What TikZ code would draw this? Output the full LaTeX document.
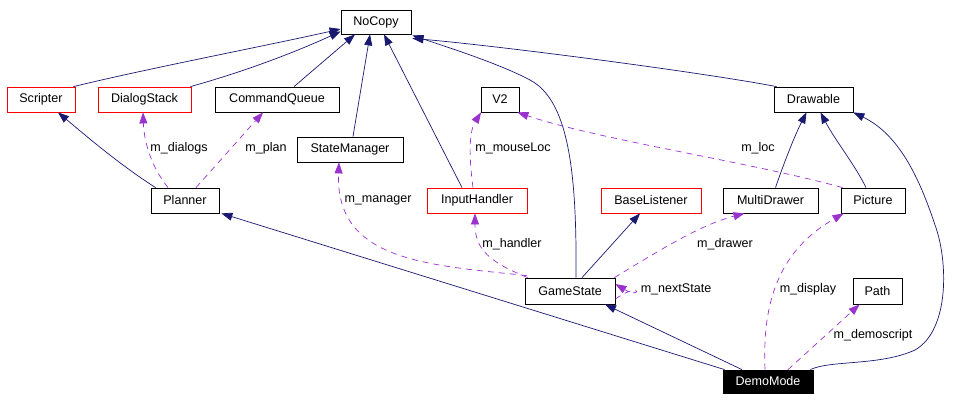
\documentclass[tikz,border=0pt]{standalone}
\usepackage{fontspec}
\setmainfont{Liberation Sans}
\usetikzlibrary{arrows.meta}
\definecolor{inhcol}{HTML}{191970}
\definecolor{usecol}{HTML}{9A32CD}
\definecolor{redbox}{HTML}{FF0000}
\begin{document}
\begin{tikzpicture}[x=1bp,y=-1bp,
  font=\fontsize{12.6}{14}\selectfont,
  cls/.style={draw=black, line width=0.8bp, minimum height=25bp, inner sep=0pt, fill=white},
  redcls/.style={cls, draw=redbox},
  tip/.style={-{Triangle[length=11bp,width=8bp]}},
  inh/.style={draw=inhcol, line width=0.7bp, tip, inhcol},
  use/.style={draw=usecol, line width=0.7bp, tip, usecol, dash pattern=on 6bp off 5bp},
  lab/.style={inner sep=0pt, text=black}]
\useasboundingbox (0,0) rectangle (972,402);

% classes
\node[cls, minimum width=70bp, minimum height=24bp] (nocopy) at (376,22) {NoCopy};
\node[redcls, minimum width=68bp] (scripter) at (41,99.5) {Scripter};
\node[redcls, minimum width=93bp] (dialog) at (144.5,99.5) {DialogStack};
\node[cls, minimum width=124bp] (cmdq) at (277,99.5) {CommandQueue};
\node[cls, minimum width=38bp] (v2) at (500,99.5) {V2};
\node[cls, minimum width=79bp] (drawable) at (813.5,99.5) {Drawable};
\node[cls, minimum width=106bp] (stateman) at (350,149.5) {StateManager};
\node[cls, minimum width=68bp] (planner) at (185,200.5) {Planner};
\node[redcls, minimum width=100bp] (input) at (477,200.5) {InputHandler};
\node[redcls, minimum width=100bp] (baselis) at (651,200.5) {BaseListener};
\node[cls, minimum width=95bp] (multi) at (770.5,200.5) {MultiDrawer};
\node[cls, minimum width=64bp] (picture) at (873,200.5) {Picture};
\node[cls, minimum width=90bp, minimum height=26bp] (gamestate) at (570,291) {GameState};
\node[cls, minimum width=49bp, minimum height=26bp] (path) at (877.5,291) {Path};
\node[cls, fill=black, text=white, minimum width=90bp, minimum height=23bp] (demo) at (768,381.5) {DemoMode};

% inheritance edges
\draw[inh] ([xshift=-2bp]scripter.north east) .. controls (150,68) and (270,45) .. ([yshift=-7bp]nocopy.west);
\draw[inh] ([xshift=-1bp]dialog.north east) .. controls (250,70) and (300,50) .. ([yshift=3bp]nocopy.south west);
\draw[inh] ([xshift=17bp]cmdq.north) -- ([xshift=-21bp]nocopy.south);
\draw[inh] ([xshift=3bp]stateman.north) -- ([xshift=-6bp]nocopy.south);
\draw[inh] ([xshift=-15bp]input.north) -- ([xshift=8bp]nocopy.south);
\draw[inh] ([xshift=6bp]gamestate.north) .. controls (577,170) and (568,100) .. (530,80) .. controls (500,64) and (450,48) .. ([xshift=1bp,yshift=-1bp]nocopy.south east);
\draw[inh] ([xshift=3bp]drawable.north west) .. controls (700,72) and (500,46) .. ([xshift=1bp,yshift=-4bp]nocopy.south east);
\draw[inh] ([xshift=5bp]planner.north west) .. controls (120,165) and (85,135) .. ([xshift=17bp]scripter.south);
\draw[inh] ([xshift=12bp]gamestate.north) -- ([xshift=-11bp]baselis.south);
\draw[inh] ([xshift=5bp]multi.north) .. controls (785,160) and (795,135) .. ([xshift=-7bp]drawable.south);
\draw[inh] ([xshift=-7bp]picture.north) .. controls (855,165) and (835,140) .. ([xshift=7bp]drawable.south);
\draw[inh] ([xshift=-3bp]demo.north east) .. controls (830,360) and (880,366) .. (915,350) .. controls (950,330) and (948,260) .. (935,225) .. controls (920,180) and (900,135) .. (drawable.south east);
\draw[inh] ([xshift=2bp]demo.north west) -- ([xshift=2bp]planner.south east);
\draw[inh] ([xshift=-26bp]demo.north) -- ([xshift=35bp]gamestate.south);

% usage edges
\draw[use] ([xshift=-17bp]planner.north) .. controls (150,165) and (144,140) .. ([xshift=-1.5bp]dialog.south);
\draw[use] ([xshift=11bp]planner.north) -- ([xshift=-14bp]cmdq.south);
\draw[use] ([xshift=2bp,yshift=2bp]gamestate.north west) .. controls (430,265) and (335,262) .. ([xshift=-11bp]stateman.south);
\draw[use] ([xshift=3bp]gamestate.north west) .. controls (490,262) and (475,250) .. ([xshift=-2bp]input.south);
\draw[use] ([xshift=-4bp]input.north) .. controls (468,150) and (470,130) .. ([xshift=-19bp]v2.south);
\draw[use] ([xshift=2bp]picture.north west) .. controls (750,162) and (600,140) .. ([xshift=-2bp]v2.south east);
\draw[use] ([xshift=-1bp]gamestate.north east) .. controls (660,250) and (700,225) .. ([xshift=-26bp]multi.south);
\draw[use] ([yshift=-8bp]gamestate.east) .. controls (642,280) and (642,300) .. ([yshift=7bp]gamestate.east);
\draw[use] ([xshift=-3bp]demo.north) .. controls (762,300) and (780,250) .. ([xshift=3bp]picture.south west);
\draw[use] ([xshift=20bp]demo.north) -- ([xshift=7bp]path.south west);

% labels
\node[lab] (l1) at (179,148) {m\_dialogs};
\node[lab] (l2) at (266,148) {m\_plan};
\node[lab] (l3) at (513,148) {m\_mouseLoc};
\node[lab] (l4) at (758,148) {m\_loc};
\node[lab] (l5) at (378,200) {m\_manager};
\node[lab] (l6) at (512,244) {m\_handler};
\node[lab] (l7) at (725,244) {m\_drawer};
\node[lab] (l8) at (676,289) {m\_nextState};
\node[lab] (l9) at (808,289) {m\_display};
\node[lab] (l10) at (873,335) {m\_demoscript};
\end{tikzpicture}
\end{document}
